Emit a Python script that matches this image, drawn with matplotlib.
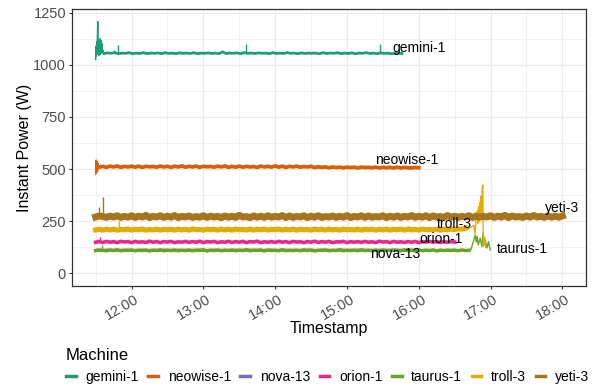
import matplotlib
matplotlib.use("Agg")
import numpy as np
import pandas as pd
import matplotlib.pyplot as plt
import matplotlib.dates as mdates
import matplotlib.transforms as mtransforms
from matplotlib.lines import Line2D

plt.rcParams['font.family'] = ['Liberation Sans', 'DejaVu Sans']

# ---------------- data (minutes after 11:30, watts) ----------------
machines = ["gemini-1", "neowise-1", "nova-13", "orion-1", "taurus-1", "troll-3", "yeti-3"]
colors = ["#1B9E77", "#D95F02", "#7570B3", "#E7298A", "#66A61E", "#E6AB02", "#A6761D"]

gemini_start_min = [0, 0.3, 0.6, 0.9, 1.2, 1.5, 1.8, 2.1, 2.4, 2.7, 3.0, 3.3, 3.6, 3.9, 4.2, 4.5, 4.8, 5.1, 5.4, 5.7, 6.0, 6.5]
gemini_start_w = [1025, 1090, 1040, 1110, 1060, 1135, 1207, 1050, 1120, 1045, 1100, 1060, 1125, 1050, 1110, 1055, 1115, 1060, 1100, 1058, 1070, 1055]
gemini_reg_start, gemini_reg_step = 7, 3
gemini_w = [1054, 1057, 1055, 1058, 1053, 1056, 1055, 1058, 1053, 1056,
            1054, 1058, 1053, 1056, 1055, 1057, 1053, 1058, 1054, 1056,
            1053, 1057, 1055, 1056, 1054, 1058, 1053, 1056, 1055, 1057,
            1054, 1056, 1053, 1062, 1054, 1056, 1055, 1057, 1053, 1058,
            1055, 1056, 1054, 1057, 1055, 1056, 1053, 1058, 1054, 1056,
            1054, 1058, 1055, 1056, 1053, 1057, 1054, 1056, 1055, 1056,
            1053, 1058, 1054, 1056, 1055, 1058, 1053, 1056, 1054, 1057,
            1053, 1056, 1055, 1058, 1054, 1056, 1053, 1057, 1054, 1056,
            1053, 1055, 1057, 1054]
gemini_spike_min = [15.5, 18.5, 126, 238]
gemini_spike_w = [1072, 1096, 1100, 1100]

neowise_start_min = [0, 0.4, 0.8, 1.2, 1.6, 2.0, 2.5]
neowise_start_w = [476, 543, 482, 536, 490, 528, 512]
neowise_reg_start, neowise_reg_step = 3, 3
neowise_w = [509, 513, 508, 514, 510, 515, 508, 513, 510, 514,
             509, 514, 508, 513, 511, 512, 509, 514, 510, 513,
             508, 514, 510, 515, 509, 513, 510, 514, 508, 513,
             511, 512, 509, 514, 510, 515, 508, 513, 509, 514,
             509, 513, 510, 512, 508, 514, 510, 513, 509, 515,
             509, 514, 508, 513, 510, 514, 509, 512, 510, 513,
             507, 511, 508, 510, 506, 510, 507, 509, 506, 509,
             507, 509, 505, 509, 507, 508, 506, 509, 505, 508,
             506, 508, 505, 509, 505, 508, 506, 505, 508, 506]

nova_reg_start, nova_reg_step = 0, 3
nova_w = [110, 111, 109, 112, 110, 111, 108, 111, 110, 112,
          109, 111, 110, 112, 108, 111, 110, 111, 109, 112,
          110, 111, 108, 112, 110, 111, 109, 111, 110, 112,
          108, 111, 110, 112, 109, 111, 110, 111, 108, 112,
          110, 111, 109, 112, 110, 111, 108, 111, 110, 112,
          109, 111, 110, 112, 108, 111, 110, 111, 109, 112,
          110, 111, 108, 112, 110, 111, 109, 111, 110, 112,
          108, 111, 110, 112, 109, 111, 110, 111, 108, 112,
          110, 111, 109, 112, 110, 111, 108, 111, 110, 111, 110]

orion_reg_start, orion_reg_step = 0, 3
orion_w = [149, 152, 148, 153, 149, 152, 147, 153, 150, 152,
           147, 153, 149, 151, 148, 154, 149, 152, 147, 152,
           150, 153, 147, 151, 149, 153, 148, 152, 149, 154,
           147, 152, 150, 153, 147, 151, 149, 153, 148, 152,
           149, 153, 147, 152, 150, 154, 147, 151, 149, 152,
           148, 153, 149, 152, 147, 153, 150, 151, 147, 152,
           149, 154, 148, 152, 149, 153, 147, 151, 150, 153,
           147, 152, 149, 152, 148, 153, 149, 151, 147, 154,
           150, 152, 147, 153, 149, 151, 148, 152, 149, 153,
           147, 152, 150, 153, 149, 152, 148, 151, 149, 152,
           150]
orion_spike_min = [1.5, 3.7, 14]
orion_spike_w = [165, 175, 162]

taurus_reg_start, taurus_reg_step = 0, 3
taurus_w = [109, 112, 110, 108, 112, 109, 113, 108, 111, 109,
            112, 108, 111, 109, 112, 107, 111, 109, 113, 108,
            111, 109, 112, 108, 111, 109, 112, 108, 111, 110,
            113, 107, 111, 109, 112, 108, 111, 109, 112, 108,
            111, 109, 113, 108, 111, 110, 112, 107, 112, 109,
            111, 108, 113, 108, 111, 109, 111, 108, 113, 109,
            112, 107, 111, 110, 112, 108, 111, 109, 113, 108,
            111, 109, 111, 108, 113, 109, 111, 108, 112, 107,
            112, 109, 111, 110, 111, 108, 113, 109, 111, 108,
            112, 108, 111, 109, 112, 107, 111, 109, 111, 110,
            111, 108, 112, 109, 110]
taurus_spike_min = [5.0]
taurus_spike_w = [136]
taurus_tail_min = [313.5, 315.5, 317.2, 318.0, 318.8, 319.7, 321.3, 322.8, 323.6, 324.7, 325.6, 327.0, 328.3, 329.7]
taurus_tail_w = [112, 150, 184, 150, 176, 136, 168, 128, 192, 136, 160, 121, 152, 112]

troll_reg_start, troll_reg_step = 0, 3
troll_w = [208, 211, 207, 212, 208, 211, 207, 210, 209, 212,
           207, 211, 209, 212, 207, 210, 208, 212, 207, 211,
           209, 211, 207, 212, 208, 211, 207, 213, 209, 210,
           207, 212, 209, 211, 207, 212, 208, 211, 207, 212,
           209, 210, 208, 212, 207, 211, 209, 212, 207, 211,
           209, 212, 207, 211, 208, 212, 207, 211, 209, 210,
           207, 212, 209, 211, 207, 212, 208, 211, 207, 212,
           209, 210, 208, 212, 207, 211, 209, 212, 207, 211,
           208, 212, 207, 211, 209, 212, 207, 212, 208, 211,
           207, 212, 209, 210, 208, 212, 207, 211, 209, 212,
           210, 213, 212, 216]
troll_spike_min = [19.8, 171, 261]
troll_spike_w = [252, 224, 226]
troll_tail_min = [312, 314, 316, 317, 318, 319, 319.5, 320, 320.5, 321, 321.5, 322, 322.5, 323, 323.5, 324, 325, 326]
troll_tail_w = [215, 222, 230, 190, 262, 300, 240, 320, 250, 340, 260, 370, 270, 400, 423, 130, 175, 125]

yeti_reg_start, yeti_reg_step = 0, 3
yeti_w = [270, 275, 272, 268, 274, 270, 276, 268, 273, 269,
          276, 268, 274, 270, 278, 267, 273, 270, 276, 268,
          274, 269, 277, 267, 273, 270, 275, 268, 272, 269,
          276, 268, 274, 270, 273, 267, 275, 269, 274, 268,
          278, 270, 272, 267, 275, 269, 274, 268, 276, 269,
          273, 270, 277, 267, 275, 268, 273, 270, 276, 267,
          274, 269, 276, 268, 272, 270, 275, 268, 274, 269,
          277, 267, 273, 270, 276, 268, 275, 269, 272, 270,
          276, 267, 274, 269, 275, 268, 273, 270, 277, 268,
          274, 269, 276, 267, 275, 270, 272, 268, 277, 269,
          274, 268, 273, 270, 276, 267, 275, 269, 273, 270,
          276, 268, 274, 269, 278, 267, 275, 270, 272, 268,
          275, 269, 277, 270, 273, 268, 276, 269, 274, 269, 275]
yeti_spike_min = [2.8, 6.4]
yeti_spike_w = [319, 367]

BASE = pd.Timestamp("2021-06-01 11:30")


def to_time(mins):
    return BASE + pd.to_timedelta(np.asarray(mins, float), unit="min")


def reg(reg_start, reg_step, reg_vals):
    return to_time(reg_start + reg_step * np.arange(len(reg_vals))), np.asarray(reg_vals, float)


series = {
    "gemini-1": dict(main=reg(gemini_reg_start, gemini_reg_step, gemini_w),
                     pre=(gemini_start_min, gemini_start_w), spikes=(gemini_spike_min, gemini_spike_w)),
    "neowise-1": dict(main=reg(neowise_reg_start, neowise_reg_step, neowise_w),
                      pre=(neowise_start_min, neowise_start_w)),
    "nova-13": dict(main=reg(nova_reg_start, nova_reg_step, nova_w)),
    "orion-1": dict(main=reg(orion_reg_start, orion_reg_step, orion_w), spikes=(orion_spike_min, orion_spike_w)),
    "taurus-1": dict(main=reg(taurus_reg_start, taurus_reg_step, taurus_w),
                     spikes=(taurus_spike_min, taurus_spike_w), post=(taurus_tail_min, taurus_tail_w)),
    "troll-3": dict(main=reg(troll_reg_start, troll_reg_step, troll_w),
                    spikes=(troll_spike_min, troll_spike_w), post=(troll_tail_min, troll_tail_w)),
    "yeti-3": dict(main=reg(yeti_reg_start, yeti_reg_step, yeti_w), spikes=(yeti_spike_min, yeti_spike_w)),
}

# line widths (pt) mimicking the dense noise bands
line_widths = {"gemini-1": 2.0, "neowise-1": 2.7, "nova-13": 2.0, "orion-1": 2.6,
               "taurus-1": 2.5, "troll-3": 3.7, "yeti-3": 5.0}
thin_lw = 1.0

# label offsets from last point (pixels: dx, dy up)
label_offsets = {
    "gemini-1": (-10, 5.5), "neowise-1": (-44, 8), "nova-13": (-49, -4),
    "orion-1": (-35, 3), "taurus-1": (7, 1), "troll-3": (-49, 23.5), "yeti-3": (-17, 8),
}

# ---------------- figure ----------------
W, H = 599, 385
fig = plt.figure(figsize=(W / 100, H / 100), dpi=100)
L, R, T, B = 72.3, 585.7, 9.3, 285.7
ax = fig.add_axes([L / W, 1 - B / H, (R - L) / W, (B - T) / H])

ends = {}
for name, col in zip(machines, colors):
    s = series[name]
    t, v = s["main"]
    ax.plot(t, v, color=col, lw=line_widths[name], solid_joinstyle="round", zorder=3)
    base = float(np.median(v))
    end_t, end_v = t[-1], v[-1]
    if "pre" in s:
        pm, pv = s["pre"]
        tt = list(to_time(pm)) + [t[0]]
        vv = list(pv) + [v[0]]
        ax.plot(tt, vv, color=col, lw=thin_lw, zorder=3)
    if "post" in s:
        pm, pv = s["post"]
        tt = [t[-1]] + list(to_time(pm))
        vv = [v[-1]] + list(pv)
        ax.plot(tt, vv, color=col, lw=thin_lw, zorder=3)
        end_t, end_v = tt[-1], vv[-1]
    if "spikes" in s:
        sm, sv = s["spikes"]
        ax.vlines(to_time(sm), base, sv, color=col, lw=thin_lw, zorder=3)
    ends[name] = (end_t, end_v)

for name in machines:
    end_t, end_v = ends[name]
    dx, dy = label_offsets[name]
    ax.annotate(name, xy=(end_t, end_v), xytext=(dx * 0.72, dy * 0.72), textcoords="offset points",
                ha="left", va="center", fontsize=10, color="black", zorder=5)

x0 = BASE - pd.Timedelta(minutes=19.5)
x1 = pd.Timestamp("2021-06-01 18:00") + pd.Timedelta(minutes=19.5)
ax.set_xlim(x0, x1)
ax.set_ylim(-59.5, 1266)

ax.set_yticks([0, 250, 500, 750, 1000, 1250])
ax.set_yticks([125, 375, 625, 875, 1125], minor=True)
ax.xaxis.set_major_locator(mdates.HourLocator(byhour=range(12, 19)))
ax.xaxis.set_minor_locator(mdates.MinuteLocator(byminute=[30]))
ax.xaxis.set_major_formatter(mdates.DateFormatter("%H:%M"))

ax.grid(True, which="major", color="#EBEBEB", lw=0.9, zorder=0)
ax.grid(True, which="minor", color="#EBEBEB", lw=0.45, zorder=0)
ax.set_axisbelow(True)
for sp in ax.spines.values():
    sp.set_color("#333333")
    sp.set_linewidth(0.9)

ax.tick_params(axis="both", which="major", length=2.5, width=0.8, color="#333333",
               labelcolor="#4D4D4D", labelsize=10.5, pad=2)
ax.tick_params(axis="both", which="minor", length=0)
for lab in ax.get_xticklabels():
    lab.set_rotation(30)
    lab.set_ha("right")
    lab.set_va("top")
    lab.set_rotation_mode("anchor")
    lab.set_transform(lab.get_transform() + mtransforms.ScaledTranslation(3 / 100, 0, fig.dpi_scale_trans))

ax.set_xlabel("Timestamp", fontsize=11.5, color="black")
ax.set_ylabel("Instant Power (W)", fontsize=11.5, color="black")
ax.xaxis.set_label_coords((328.5 - L) / (R - L), 1 - (328 - T) / (B - T))
ax.xaxis.label.set_va("center")
ax.yaxis.set_label_coords((25 - L) / (R - L), 0.5)
ax.yaxis.label.set_va("center")

handles = [Line2D([0], [0], color=c, lw=2.5) for c in colors]
leg = fig.legend(handles, machines, title="Machine", loc="upper left",
                 bbox_to_anchor=(66 / W, 1 - 348 / H), ncol=7, frameon=False,
                 fontsize=10, title_fontsize=12, handlelength=0.7, handletextpad=0.7,
                 columnspacing=0.68, alignment="left", borderaxespad=0, borderpad=0)

fig.savefig("out.png", dpi=100)
